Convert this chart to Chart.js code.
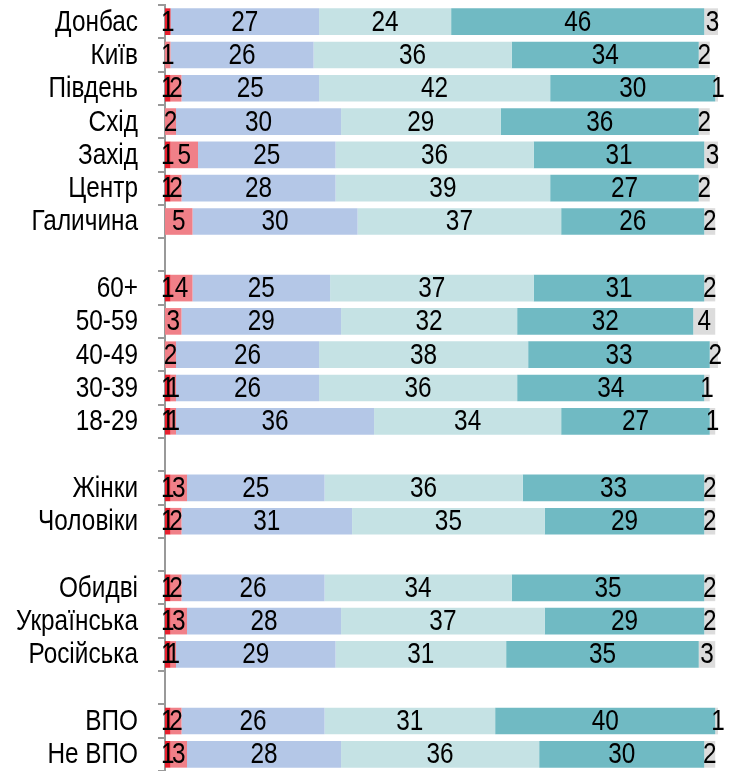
<!DOCTYPE html>
<html><head><meta charset="utf-8">
<script src="https://cdn.jsdelivr.net/npm/chart.js@4"></script>
<style>html,body{margin:0;padding:0;background:#fff}#wrap{width:729px;height:771px;position:relative}</style>
</head><body><div id="wrap"><canvas id="c"></canvas></div>
<script>
const categories = ['Донбас','Київ','Південь','Схід','Захід','Центр','Галичина','',
  '60+','50-59','40-49','30-39','18-29','',
  'Жінки','Чоловіки','',
  'Обидві','Українська','Російська','',
  'ВПО','Не ВПО'];
const s1 = [1,0,1,0,1,1,0,null, 1,0,0,1,1,null, 1,1,null, 1,1,1,null, 1,1];
const s2 = [0,1,2,2,5,2,5,null, 4,3,2,1,1,null, 3,2,null, 2,3,1,null, 2,3];
const s3 = [27,26,25,30,25,28,30,null, 25,29,26,26,36,null, 25,31,null, 26,28,29,null, 26,28];
const s4 = [24,36,42,29,36,39,37,null, 37,32,38,36,34,null, 36,35,null, 34,37,31,null, 31,36];
const s5 = [46,34,30,36,31,27,26,null, 31,32,33,34,27,null, 33,29,null, 35,29,35,null, 40,30];
const s6 = [3,2,1,2,3,2,2,null, 2,4,2,1,1,null, 2,2,null, 2,2,3,null, 1,2];
const seriesNames = ['s1','s2','s3','s4','s5','s6'];
const colors = ['#E8202E','#F08088','#B4C7E7','#C5E2E4','#70BAC3','#DCDCDC'];
const FONT = '"Liberation Sans",Arial,sans-serif';
const FS = 29, SX = 0.84;

function narrowText(ctx, text, x, y, align) {
  ctx.save();
  ctx.translate(x, y);
  ctx.scale(SX, 1);
  ctx.textAlign = align;
  ctx.fillText(text, 0, 0);
  ctx.restore();
}

const labelPlugin = {
  id: 'segLabels',
  afterDatasetsDraw(chart) {
    const ctx = chart.ctx;
    ctx.save();
    ctx.font = FS + 'px ' + FONT;
    ctx.fillStyle = '#000';
    ctx.textBaseline = 'middle';
    chart.data.datasets.forEach((ds, di) => {
      const meta = chart.getDatasetMeta(di);
      meta.data.forEach((el, i) => {
        const v = ds.data[i];
        if (v == null || v <= 0) return;
        narrowText(ctx, String(v), (el.x + el.base) / 2, el.y + 1, 'center');
      });
    });
    const ys = chart.scales.y;
    categories.forEach((c, i) => {
      if (!c) return;
      narrowText(ctx, c, 138, ys.getPixelForValue(i) + 1, 'right');
    });
    ctx.restore();
  }
};

const all = [s1,s2,s3,s4,s5,s6];
new Chart(document.getElementById('c'), {
  type: 'bar',
  data: {
    labels: categories,
    datasets: all.map((d, k) => ({
      label: seriesNames[k], data: d, backgroundColor: colors[k],
      borderWidth: 0, barPercentage: 0.8, categoryPercentage: 1.0
    }))
  },
  options: {
    indexAxis: 'y',
    responsive: true, maintainAspectRatio: false, animation: false,
    layout: { padding: { top: 5, right: 11, bottom: 0, left: 0 } },
    plugins: { legend: { display: false }, tooltip: { enabled: false } },
    scales: {
      x: { stacked: true, min: 0, max: 100.5, display: false },
      y: {
        stacked: true,
        afterFit(scale) { scale.width = 165; scale.paddingTop = 0; scale.paddingBottom = 0; },
        grid: { offset: true, drawOnChartArea: false, drawTicks: true, tickLength: 7, color: '#999', lineWidth: 2 },
        border: { display: true, color: '#999', width: 2 },
        ticks: { display: false, autoSkip: false }
      }
    }
  },
  plugins: [labelPlugin]
});
</script></body></html>
